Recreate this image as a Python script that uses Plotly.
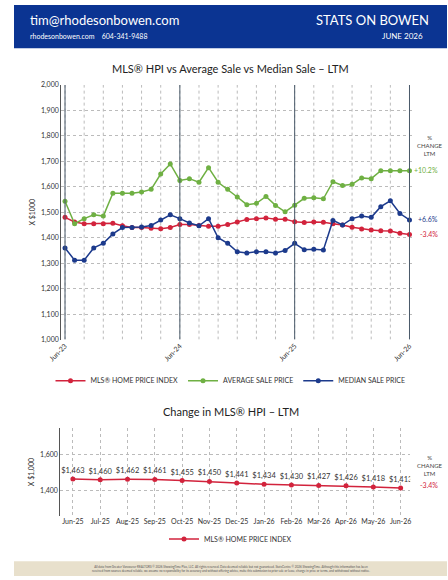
import plotly.graph_objects as go

months = ["Jun-23","Jul-23","Aug-23","Sep-23","Oct-23","Nov-23","Dec-23","Jan-24","Feb-24","Mar-24","Apr-24","May-24",
          "Jun-24","Jul-24","Aug-24","Sep-24","Oct-24","Nov-24","Dec-24","Jan-25","Feb-25","Mar-25","Apr-25","May-25",
          "Jun-25","Jul-25","Aug-25","Sep-25","Oct-25","Nov-25","Dec-25","Jan-26","Feb-26","Mar-26","Apr-26","May-26","Jun-26"]
hpi = [1480,1462,1455,1455,1455,1457,1447,1440,1440,1437,1435,1440,1452,1452,1448,1445,1445,1452,1462,1472,1475,1478,
       1473,1473,1463,1460,1462,1461,1455,1450,1441,1434,1430,1427,1426,1418,1413]
avg = [1543,1455,1475,1490,1485,1575,1575,1575,1580,1590,1650,1690,1625,1632,1618,1675,1618,1590,1560,1530,1535,1562,
       1527,1502,1528,1555,1557,1553,1620,1605,1610,1635,1632,1663,1663,1663,1663]
med = [1360,1312,1312,1360,1378,1415,1440,1440,1442,1448,1470,1490,1475,1458,1447,1475,1400,1378,1345,1340,1345,1345,
       1340,1350,1378,1353,1355,1352,1468,1450,1475,1485,1480,1522,1545,1495,1470]
yticks = list(range(1000, 2001, 100))
ltm_months = months[24:]
ltm_hpi = hpi[24:]

RED, GREEN, BLUE = "#d2233c", "#6fb043", "#1c3a8c"
x = list(range(len(months)))

fig = go.Figure()
for name, vals, col in [("MLS® HOME PRICE INDEX", hpi, RED), ("AVERAGE SALE PRICE", avg, GREEN),
                        ("MEDIAN SALE PRICE", med, BLUE)]:
    fig.add_trace(go.Scatter(x=x, y=vals, name=name, mode="lines+markers",
                             line=dict(color=col, width=1.5), marker=dict(color=col, size=5),
                             xaxis="x", yaxis="y", legend="legend"))
fig.add_trace(go.Scatter(x=list(range(len(ltm_months))), y=ltm_hpi, name="MLS® HOME PRICE INDEX",
                         mode="lines+markers+text", text=[f"${v:,}" for v in ltm_hpi],
                         textposition="top center", textfont=dict(size=7.5, color="#333"),
                         line=dict(color=RED, width=1.5), marker=dict(color=RED, size=5),
                         xaxis="x2", yaxis="y2", legend="legend2"))

for i in [0, 12, 24, 36]:
    fig.add_shape(type="line", xref="x", yref="y", x0=i, x1=i, y0=1000, y1=2000,
                  line=dict(color="#4a5a6a", width=1))

font = "Lato, Open Sans, sans-serif"
fig.update_layout(
    width=448, height=580, margin=dict(l=0, r=0, t=0, b=0),
    paper_bgcolor="white", plot_bgcolor="white", font=dict(family=font, color="#333"),
    xaxis=dict(domain=[0.109, 0.92], range=[-0.4, 36.3], tickmode="array", tickvals=[0, 12, 24, 36],
               ticktext=["Jun-23", "Jun-24", "Jun-25", "Jun-26"], tickangle=-45, tickfont=dict(size=7),
               showgrid=False, showline=False, zeroline=False),
    yaxis=dict(domain=[0.414, 0.86], range=[1000, 2000], tickvals=yticks,
               ticktext=[f"{v:,}" for v in yticks], tickfont=dict(size=7), showgrid=True,
               gridcolor="#bbbbbb", griddash="dot", showline=True, linecolor="#555", zeroline=False,
               title=dict(text="X $1000", font=dict(size=7), standoff=4)),
    xaxis2=dict(domain=[0.107, 0.915], range=[-0.46, 12.35], tickmode="array",
                tickvals=list(range(13)), ticktext=ltm_months, tickfont=dict(size=7),
                showgrid=True, gridcolor="#bbbbbb", griddash="dot", showline=False, zeroline=False,
                anchor="y2"),
    yaxis2=dict(domain=[0.105, 0.259], range=[1255, 1750], tickvals=[1400, 1600],
                ticktext=["1,400", "1,600"], tickfont=dict(size=7), showgrid=True, gridcolor="#bbbbbb",
                griddash="dot", showline=True, linecolor="#555", zeroline=False, anchor="x2",
                title=dict(text="X $1,000", font=dict(size=7), standoff=4)),
    legend=dict(orientation="h", x=0.5, xanchor="center", y=0.342, yanchor="middle",
                font=dict(size=7), itemwidth=30),
    legend2=dict(orientation="h", x=0.5, xanchor="center", y=0.065, yanchor="middle",
                 font=dict(size=7), itemwidth=30),
)

for i in range(0, 37, 2):
    fig.add_shape(type="line", xref="x", yref="y", x0=i, x1=i, y0=1000, y1=2000, layer="below",
                  line=dict(color="#bbbbbb", width=1, dash="dot"))

fig.add_shape(type="rect", xref="paper", yref="paper", x0=0, x1=1, y0=1 - 44 / 580, y1=1,
              fillcolor="#0b3492", line_width=0)
fig.add_shape(type="rect", xref="paper", yref="paper", x0=0, x1=1, y0=0, y1=15 / 580,
              fillcolor="#e8e0cc", line_width=0)
ann = [
    dict(x=14 / 448, y=1 - 15 / 580, text="tim@rhodesonbowen.com", size=13, color="white", xa="left"),
    dict(x=14 / 448, y=1 - 31 / 580, text="rhodesonbowen.com&nbsp;&nbsp;&nbsp;&nbsp;604-341-9488", size=7, color="white", xa="left"),
    dict(x=431 / 448, y=1 - 15 / 580, text="STATS ON BOWEN", size=13, color="white", xa="right"),
    dict(x=425 / 448, y=1 - 31 / 580, text="JUNE 2026", size=8, color="white", xa="right"),
    dict(x=0.5, y=1 - 64 / 580, text="MLS® HPI vs Average Sale vs Median Sale – LTM", size=11, color="#222", xa="center"),
    dict(x=0.5, y=1 - 413 / 580, text="Change in MLS® HPI – LTM", size=11, color="#222", xa="center"),
    dict(x=430 / 448, y=1 - 143 / 580, text="%<br>CHANGE<br>LTM", size=6, color="#444", xa="center"),
    dict(x=441 / 448, y=1 - 168 / 580, text="+10.2%", size=7, color=GREEN, xa="right"),
    dict(x=441 / 448, y=1 - 217 / 580, text="+6.6%", size=7, color=BLUE, xa="right"),
    dict(x=441 / 448, y=1 - 233 / 580, text="-3.4%", size=7, color=RED, xa="right"),
    dict(x=430 / 448, y=1 - 468 / 580, text="%<br>CHANGE<br>LTM", size=6, color="#444", xa="center"),
    dict(x=441 / 448, y=1 - 488 / 580, text="-3.4%", size=7, color=RED, xa="right"),
    dict(x=0.5, y=1 - 572 / 580, text="All data from Greater Vancouver REALTORS © 2026 ShowingTime Plus, LLC. All rights reserved. Data deemed reliable but not guaranteed. StatsCentre © 2026 ShowingTime. Although this information has been<br>received from sources deemed reliable, we assume no responsibility for its accuracy and without offering advice, make this submission to prior sale or lease, change in price or terms, and withdrawal without notice.", size=3, color="#555", xa="center"),
]
for a in ann:
    fig.add_annotation(x=a["x"], y=a["y"], xref="paper", yref="paper", text=a["text"], showarrow=False,
                       xanchor=a["xa"], yanchor="middle", font=dict(size=a["size"], color=a["color"], family=font))

fig.write_html("out.html", config={"displayModeBar": False})
with open("out.html", encoding="utf-8") as f:
    html = f.read()
html = html.replace("<head>", "<head><style>html,body{margin:0;padding:0;overflow:hidden}</style>", 1)
with open("out.html", "w", encoding="utf-8") as f:
    f.write(html)
